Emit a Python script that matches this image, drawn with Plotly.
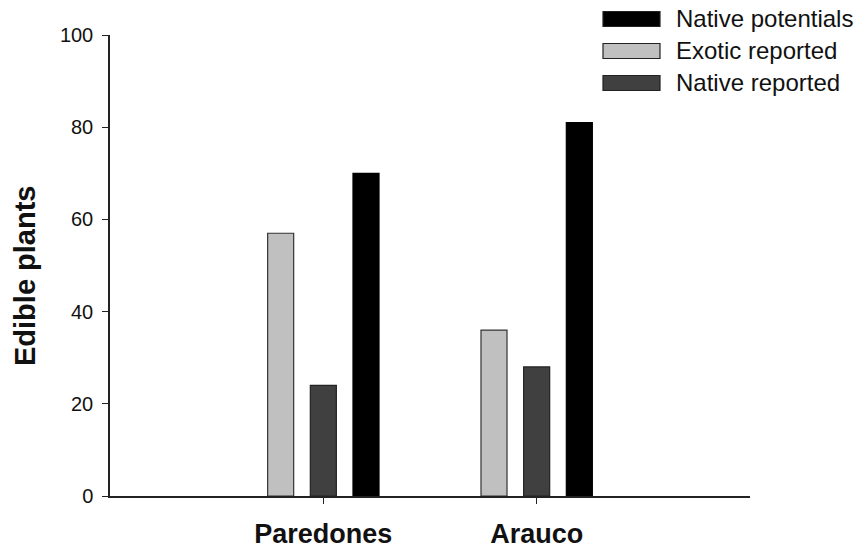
import plotly.graph_objects as go

# Edible plant counts per locality
sites = ["Paredones", "Arauco"]
exotic_reported = [57, 36]
native_reported = [24, 28]
native_potentials = [70, 81]

series_names = ["Exotic reported", "Native reported", "Native potentials"]
series_values = [exotic_reported, native_reported, native_potentials]
series_colors = ["#c0c0c0", "#404040", "#000000"]
series_lines = ["#333333", "#222222", "#000000"]

# legend rows from top to bottom
legend_order = ["Native potentials", "Exotic reported", "Native reported"]

y_ticks = [0, 20, 40, 60, 80, 100]
y_title = "Edible plants"

FONT = "Liberation Sans, Arial, sans-serif"

fig = go.Figure()
for name, vals, col, lc in zip(series_names, series_values, series_colors, series_lines):
    fig.add_trace(go.Bar(
        x=sites, y=vals, name=name,
        marker=dict(color=col, line=dict(color=lc, width=1.2)),
        showlegend=False,
    ))

# hand-drawn legend block in the upper-right corner
plot_h = 461.0
plot_w = 640.0
row_h = 32 / plot_h
top_row = 1 + (35 - 19) / plot_h
box_h = 15 / plot_h
x0 = (603 - 110) / plot_w
x1 = (660 - 110) / plot_w
xt = (674 - 110) / plot_w
for i, name in enumerate(legend_order):
    idx = series_names.index(name)
    yc = top_row - i * row_h
    fig.add_shape(type="rect", xref="paper", yref="paper",
                  x0=x0, x1=x1, y0=yc - box_h / 2, y1=yc + box_h / 2,
                  fillcolor=series_colors[idx],
                  line=dict(color="#222222", width=1.2))
    fig.add_annotation(xref="paper", yref="paper", x=xt, y=yc,
                       xanchor="left", yanchor="middle", showarrow=False,
                       text=name, font=dict(family=FONT, size=24, color="#111111"))

# rotated y-axis caption, sitting a little below the axis midpoint
fig.add_annotation(xref="paper", yref="paper",
                   x=(25 - 110) / plot_w, y=(496 - 276) / plot_h,
                   xanchor="center", yanchor="middle", showarrow=False, textangle=-90,
                   text="<b>" + y_title + "</b>",
                   font=dict(family=FONT, size=29, color="#111111"))

fig.update_layout(
    width=866, height=552,
    margin=dict(l=110, r=116, t=35, b=56),
    paper_bgcolor="white", plot_bgcolor="white",
    barmode="group", bargap=0.4, bargroupgap=0.39,
    font=dict(family=FONT, color="#111111"),
)
fig.update_xaxes(
    range=[-1, 2], showline=True, linecolor="#222222", linewidth=1.5,
    ticks="outside", ticklen=6, tickwidth=1.2, tickcolor="#222222",
    tickfont=dict(family=FONT, size=27, color="#111111", weight="bold"),
    ticklabelstandoff=7, automargin=False,
    showgrid=False, zeroline=False,
)
fig.update_yaxes(
    range=[0, 100], tickvals=y_ticks, showline=True, linecolor="#222222", linewidth=1.5,
    ticks="outside", ticklen=6, tickwidth=1.2, tickcolor="#222222",
    tickfont=dict(family=FONT, size=20, color="#111111"),
    ticklabelstandoff=5, automargin=False,
    showgrid=False, zeroline=False,
)

fig.write_html("out.html")
